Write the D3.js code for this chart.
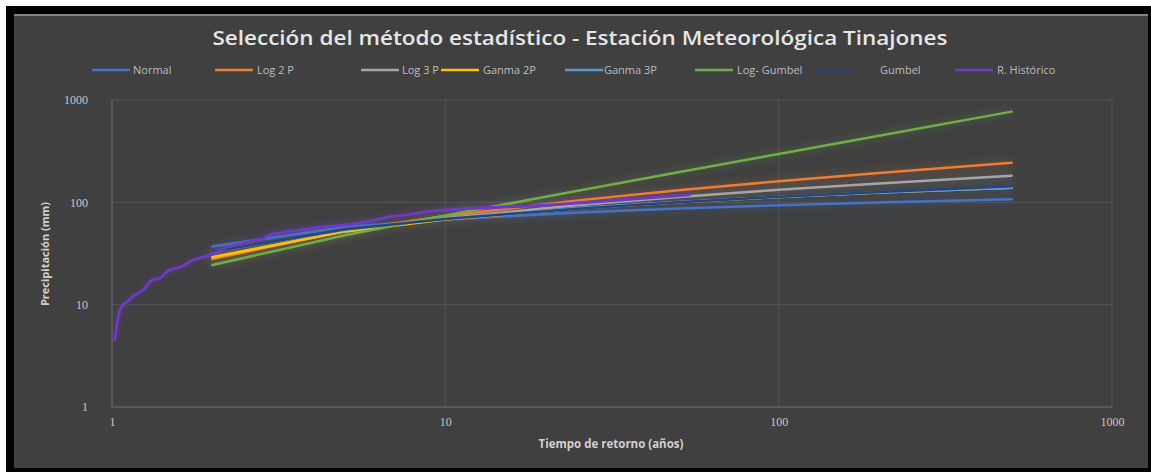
<!DOCTYPE html>
<html><head><meta charset="utf-8">
<script src="https://cdn.jsdelivr.net/npm/d3@7"></script>
<style>
html,body{margin:0;padding:0;background:#fff;}
svg{display:block;}
</style></head>
<body>
<svg id="c" width="1151" height="472"></svg>
<script>
// ---- data ----
const returnPeriods = [2, 5, 10, 25, 50, 100, 200, 500];
const normal    = [37, 57.5, 68, 79.6, 86.9, 93.5, 99.6, 107];
const log2P     = [28, 52.7, 73.4, 104.5, 131, 161, 194, 244];
const log3P     = [29, 52, 70, 94, 113, 133, 153, 182];
const ganma2P   = [29, 52, 68, 87, 100, 113, 125, 139];
const ganma3P   = [33, 54, 69, 88, 101, 113, 125, 139];
const logGumbel = [24.4, 47.7, 74.2, 130, 197, 297, 448, 770];
const gumbel    = [33, 54.5, 68.7, 86.7, 100, 113.2, 126.4, 144];
const histT = [54, 27, 18, 13.5, 10.8, 9, 7.714, 6.75, 6, 5.4, 4.909, 4.5, 4.154, 3.857, 3.6, 3.375,
  3.176, 3, 2.842, 2.7, 2.571, 2.455, 2.348, 2.25, 2.16, 2.077, 2, 1.929, 1.862, 1.8, 1.742, 1.688,
  1.636, 1.588, 1.543, 1.5, 1.459, 1.421, 1.385, 1.35, 1.317, 1.286, 1.256, 1.227, 1.2, 1.174, 1.149,
  1.125, 1.102, 1.08, 1.059, 1.038, 1.019];
const histP = [118, 100, 92, 89, 86, 82, 76, 72, 66, 62, 60, 58, 57, 55, 53, 52,
  50, 49, 44, 43, 41, 40, 38, 37, 35, 33, 31.5, 30, 29, 28, 27, 25.5,
  24, 23, 22.5, 22, 21, 19, 18, 17.8, 17.5, 16, 14.5, 13.5, 13, 12.5, 12,
  11, 10.5, 10, 9, 7, 4.5];
const seriesNames = ["Normal", "Log 2 P", "Log 3 P", "Ganma 2P", "Ganma 3P", "Log- Gumbel", "Gumbel", "R. Histórico"];
const seriesColors = ["#4472C4", "#ED7D31", "#A5A5A5", "#FFC000", "#5B9BD5", "#70AD47", "#264478", "#7038C8"];
const xTicks = [1, 10, 100, 1000];
const yTicks = [1, 10, 100, 1000];
const titleText = "Selección del método estadístico - Estación Meteorológica Tinajones";
const xLabel = "Tiempo de retorno (años)";
const yLabel = "Precipitación (mm)";

// ---- layout ----
const svg = d3.select("#c");
const W = 1151, H = 472;
const plot = {l: 112, r: 1112, t: 100, b: 407};
const legendX = [[92, 133], [215, 257], [361, 402], [441, 483], [565, 604], [695, 737], [815, 880], [955, 997]];

// frame
svg.append("rect").attr("x", 0).attr("y", 0).attr("width", W).attr("height", H).attr("fill", "#ffffff");
svg.append("rect").attr("x", 6).attr("y", 6).attr("width", W - 6).attr("height", H - 6).attr("fill", "#000");
svg.append("rect").attr("x", 14).attr("y", 14).attr("width", 1134).attr("height", 454).attr("fill", "#404040");
svg.append("line").attr("x1", 14).attr("x2", 1148).attr("y1", 15).attr("y2", 15).attr("stroke", "#9a9a9a").attr("stroke-width", 1.5);

// glow filter
const defs = svg.append("defs");
const f = defs.append("filter").attr("id", "glow").attr("x", "-10%").attr("y", "-50%").attr("width", "120%").attr("height", "200%");
f.append("feGaussianBlur").attr("in", "SourceGraphic").attr("stdDeviation", 5).attr("result", "b");
f.append("feComponentTransfer").attr("in", "b").attr("result", "b2")
  .append("feFuncA").attr("type", "linear").attr("slope", 0.45);
const m = f.append("feMerge");
m.append("feMergeNode").attr("in", "b2");
m.append("feMergeNode").attr("in", "SourceGraphic");

const x = d3.scaleLog().domain([1, 1000]).range([plot.l, plot.r]);
const y = d3.scaleLog().domain([1, 1000]).range([plot.b, plot.t]);

// gridlines
const grid = svg.append("g");
grid.selectAll(".gx").data(xTicks).join("line")
  .attr("x1", d => x(d)).attr("x2", d => x(d)).attr("y1", plot.t).attr("y2", plot.b)
  .attr("stroke", "#555555").attr("stroke-width", 1);
grid.selectAll(".gy").data(yTicks).join("line")
  .attr("x1", plot.l).attr("x2", plot.r).attr("y1", d => y(d)).attr("y2", d => y(d))
  .attr("stroke", "#555555").attr("stroke-width", 1);
grid.append("line").attr("x1", plot.l).attr("x2", plot.r).attr("y1", plot.b).attr("y2", plot.b)
  .attr("stroke", "#666").attr("stroke-width", 1.2);
grid.append("line").attr("x1", plot.l).attr("x2", plot.l).attr("y1", plot.t).attr("y2", plot.b)
  .attr("stroke", "#666").attr("stroke-width", 1.2);

// axes via d3 axis
const fmt = d => String(d);
const xAxis = svg.append("g").attr("transform", `translate(0,${plot.b + 6})`)
  .call(d3.axisBottom(x).tickValues(xTicks).tickFormat(fmt).tickSize(0).tickPadding(4));
const yAxis = svg.append("g").attr("transform", `translate(${plot.l - 12},0)`)
  .call(d3.axisLeft(y).tickValues(yTicks).tickFormat(fmt).tickSize(0).tickPadding(12));
[xAxis, yAxis].forEach(a => {
  a.select(".domain").remove();
  a.selectAll("text").attr("fill", "#c8c8c8").attr("font-family", "Liberation Serif, DejaVu Serif, serif").attr("font-size", 12);
});
yAxis.selectAll("text").attr("dx", 0);

// series
const fits = [normal, log2P, log3P, ganma2P, ganma3P, logGumbel, gumbel];
const line = d3.line().x(d => x(d[0])).y(d => y(d[1]));
const lines = svg.append("g").attr("filter", "url(#glow)");
fits.forEach((vals, i) => {
  lines.append("path").datum(returnPeriods.map((t, j) => [t, vals[j]]))
    .attr("d", line).attr("fill", "none").attr("stroke", seriesColors[i])
    .attr("stroke-width", 2.5).attr("stroke-linejoin", "round").attr("stroke-linecap", "round");
});
lines.append("path").datum(histT.map((t, j) => [t, histP[j]]))
  .attr("d", line).attr("fill", "none").attr("stroke", seriesColors[7])
  .attr("stroke-width", 2.8).attr("stroke-linejoin", "round").attr("stroke-linecap", "round");

// title
svg.append("text").attr("x", 580).attr("y", 45).attr("text-anchor", "middle")
  .attr("font-family", "Open Sans, Lato, sans-serif").attr("font-weight", "600").attr("font-size", 19)
  .attr("fill", "#e6e6e6").attr("textLength", 735).attr("lengthAdjust", "spacingAndGlyphs").text(titleText);

// legend
const lg = svg.append("g");
seriesNames.forEach((n, i) => {
  const [lx, tx] = legendX[i];
  lg.append("line").attr("x1", lx).attr("x2", lx + 38).attr("y1", 70).attr("y2", 70)
    .attr("stroke", seriesColors[i]).attr("stroke-width", 2.5);
  lg.append("text").attr("x", tx).attr("y", 74).attr("font-family", "Open Sans, sans-serif")
    .attr("font-size", 11).attr("fill", "#bdbdbd").text(n);
});

// axis titles
svg.append("text").attr("x", 611).attr("y", 448).attr("text-anchor", "middle")
  .attr("font-family", "Open Sans, sans-serif").attr("font-weight", "700").attr("font-size", 11.5)
  .attr("fill", "#d0d0d0").text(xLabel);
svg.append("text").attr("transform", "translate(49,254) rotate(-90)").attr("text-anchor", "middle")
  .attr("font-family", "Open Sans, sans-serif").attr("font-weight", "700").attr("font-size", 11)
  .attr("fill", "#d0d0d0").text(yLabel);
</script>
</body></html>
